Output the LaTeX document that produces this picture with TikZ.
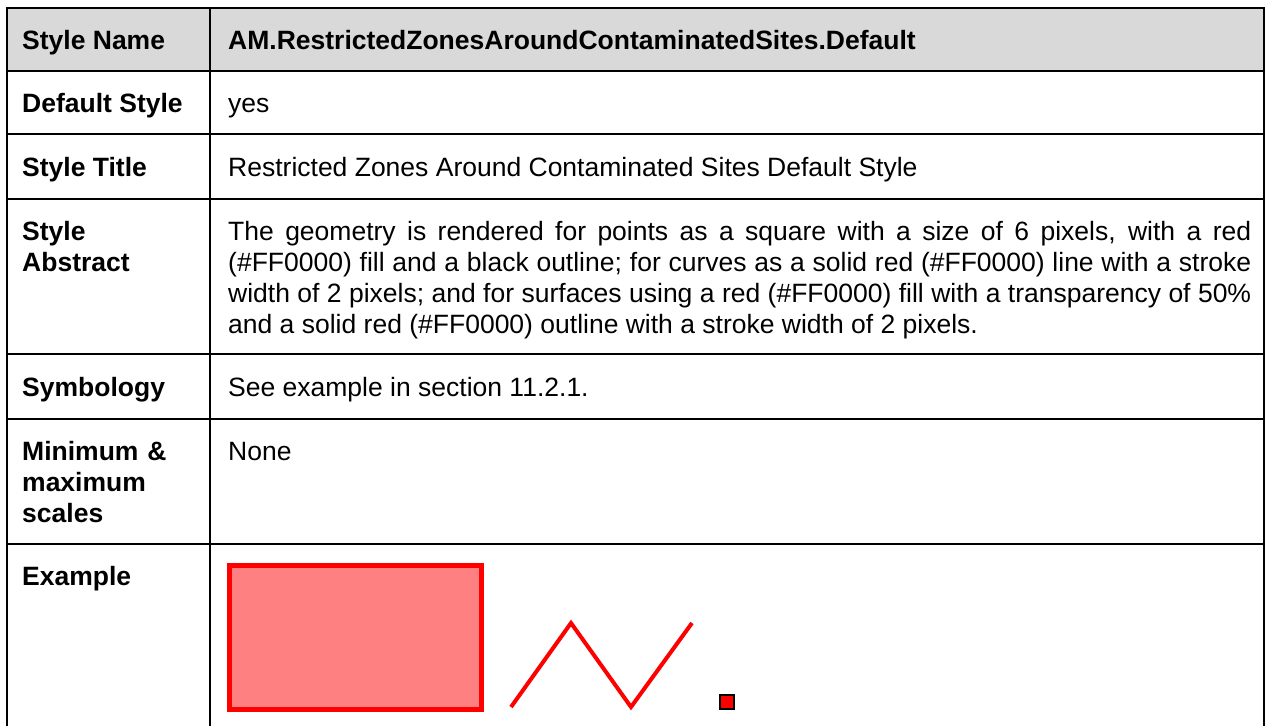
\documentclass[tikz,border=0pt]{standalone}
\usepackage{fontspec}
\setmainfont{Liberation Sans}
\usepackage{tikz}
\usetikzlibrary{positioning}
\definecolor{hdrgray}{RGB}{217,217,217}
\definecolor{symred}{RGB}{255,0,0}

\begin{document}
\begin{tikzpicture}[
        x=1pt, y=-1pt,
        every node/.style={inner sep=0pt, font=\fontsize{26.5}{31.3}\selectfont},
        lbl/.style={anchor=base west, align=left, font=\fontsize{26.5}{31.3}\selectfont\bfseries},
        multilbl/.style={lbl, text width=180pt},
        val/.style={anchor=base west, align=left},
        rule/.style={line width=2.5pt}
    ]
        \useasboundingbox (0,0) rectangle (1269,726);

        % Header row
        \fill[hdrgray] (7,8) rectangle (1264,71);

        % Table rules
        \draw[rule] (7,726) -- (7,8) -- (1264,8) -- (1264,726);
        \draw[rule] (210,8) -- (210,726);
        \foreach \y in {71,134,199,354,419,544}
            \draw[rule] (7,\y) -- (1264,\y);

        % Left column labels
        \node[lbl] (name) at (22,49) {Style Name};
        \node[lbl] (dflt) at (22,112) {Default Style};
        \node[lbl] (title) at (22,176) {Style Title};
        \node[multilbl] (abstr) at (22,240) {Style\\Abstract};
        \node[lbl] (symb) at (22,396) {Symbology};
        \node[multilbl] (scales) at (22,460) {Minimum \&\\maximum\\scales};
        \node[lbl] (expl) at (22,585) {Example};

        % Right column values
        \node[lbl] (nameval) at (228,49) {AM.RestrictedZonesAroundContaminatedSites.Default};
        \node[val] (dfltval) at (228,112) {yes};
        \node[val] (titleval) at (228,176) {Restricted Zones Around Contaminated Sites Default Style};
        \node[val, text width=1023pt, align=justify] (abstrval) at (228,240)
            {The geometry is rendered for points as a square with a size of 6 pixels, with a red\linebreak
             (\#FF0000) fill and a black outline; for curves as a solid red (\#FF0000) line with a stroke\linebreak
             width of 2 pixels; and for surfaces using a red (\#FF0000) fill with a transparency of 50\%\linebreak
             and a solid red (\#FF0000) outline with a stroke width of 2 pixels.};
        \node[val] (symbval) at (228,396) {See example in section 11.2.1.};
        \node[val] (scalesval) at (228,460) {None};

        % Example symbols
        \filldraw[draw=symred, fill=symred!50, line width=5pt] (229.5,565.5) rectangle (481.5,709.5);
        \draw[symred, line width=4pt] (511,707) -- (571,623) -- (631,707) -- (692,623);
        \filldraw[fill=symred, draw=black, line width=2.5pt] (720,695) rectangle (734,709);
    \end{tikzpicture}
\end{document}
